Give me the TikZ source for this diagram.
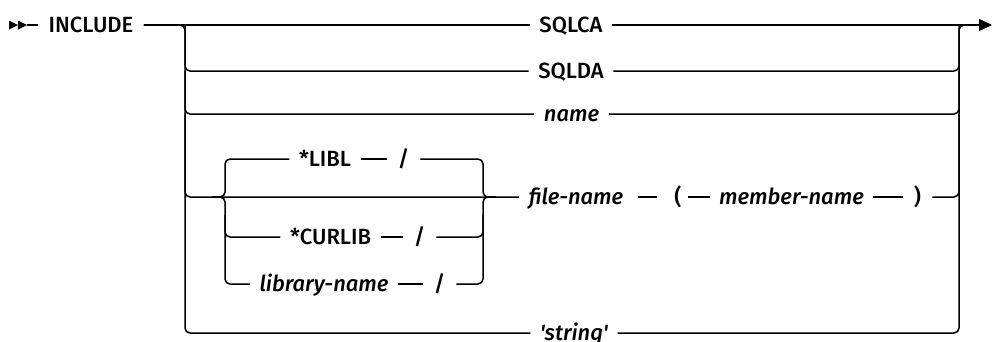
\documentclass[tikz,border=0pt]{standalone}
\usepackage{fontspec}
\setmainfont{Fira Sans}[UprightFont={* Medium}, ItalicFont={* Medium Italic}, Ligatures=TeXOff]
\usetikzlibrary{arrows.meta}
\begin{document}
\begin{tikzpicture}[x=1pt,y=-1pt,
  rail/.style={line width=1.5pt, line join=round},
  rc/.style={rail, rounded corners=5pt},
  word/.style={inner xsep=9.5pt, inner ysep=0pt, text height=15pt, text depth=0pt, font=\fontsize{22}{26}\selectfont},
  itword/.style={word, font=\fontsize{22}{26}\selectfont\itshape},
  punct/.style={word, inner xsep=11pt}]
\useasboundingbox (0,0) rectangle (992,341);
% nodes
\node[word, inner xsep=10pt] (inc) at (91,25) {INCLUDE};
\node[word] (sqlca) at (571,25) {SQLCA};
\node[word] (sqlda) at (571,71) {SQLDA};
\node[itword] (name) at (571.5,114) {name};
\node[word] (libl) at (325,159) {*LIBL};
\node[punct] (s1) at (403.5,159) {/};
\node[itword] (fname) at (576,197) {file-name};
\node[punct] (lp) at (678,197) {(};
\node[itword] (mname) at (791.5,197) {member-name};
\node[punct] (rp) at (917.5,197) {)};
\node[word] (curlib) at (330.5,237) {*CURLIB};
\node[punct] (s2) at (419.5,237) {/};
\node[itword] (libname) at (324,284) {library-name};
\node[punct] (s3) at (439.5,284) {/};
\node[itword] (str) at (574,333) {'string'};
% coordinates
\coordinate (st) at (27,25);
\coordinate (endpt) at (992,25);
\coordinate (rj) at (975,25);
\coordinate (Lx) at (185,0);
\coordinate (Rx) at (959,0);
\coordinate (IL) at (225,0);
\coordinate (IR) at (483,0);
\coordinate (bl) at (212,197);
\coordinate (br) at (496,197);
\coordinate (ilm) at (225,215);
\coordinate (irm) at (483,215);
% start marker
\fill (9,20.5) -- (18,25) -- (9,29.5) -- cycle;
\fill (18,20.5) -- (27,25) -- (18,29.5) -- cycle;
\draw[rail] (st) -- (inc);
% main line
\draw[rail] (inc) -- (sqlca);
\draw[rail, -{Triangle[length=13pt,width=12pt]}] (sqlca) -- (endpt);
% rails
\draw[rc] (inc.east) -| (Lx |- str.west) -- (str.west);
\draw[rc] (str.east) -| (Rx |- sqlca.east) -- (rj);
% branches
\draw[rc] (Lx |- sqlca.west) |- (sqlda.west);
\draw[rc] (sqlda.east) -| (Rx |- sqlca.east);
\draw[rc] (Lx |- sqlda.west) |- (name.west);
\draw[rc] (name.east) -| (Rx |- sqlda.east);
\draw[rc] (Lx |- name.west) |- (fname.west);
\draw[rail, shorten <=5pt, shorten >=6pt] (fname) -- (lp);
\draw[rail, shorten <=-5pt] (lp) -- (mname);
\draw[rail] (mname) -- (rp);
\draw[rc] (rp.east) -| (Rx |- name.east);
% inner group
\draw[rc] (bl) -| (IL |- libl.west) -- (libl.west);
\draw[rail] (libl) -- (s1);
\draw[rc] (s1.east) -| (IR |- fname.west) -- (br);
\draw[rc] (bl) -| (IL |- libname.west) -- (libname.west);
\draw[rail] (libname) -- (s3);
\draw[rc] (s3.east) -| (IR |- fname.west) -- (br);
\draw[rc] (ilm) |- (curlib.west);
\draw[rail] (curlib) -- (s2);
\draw[rc] (s2.east) -| (irm);
\end{tikzpicture}
\end{document}
